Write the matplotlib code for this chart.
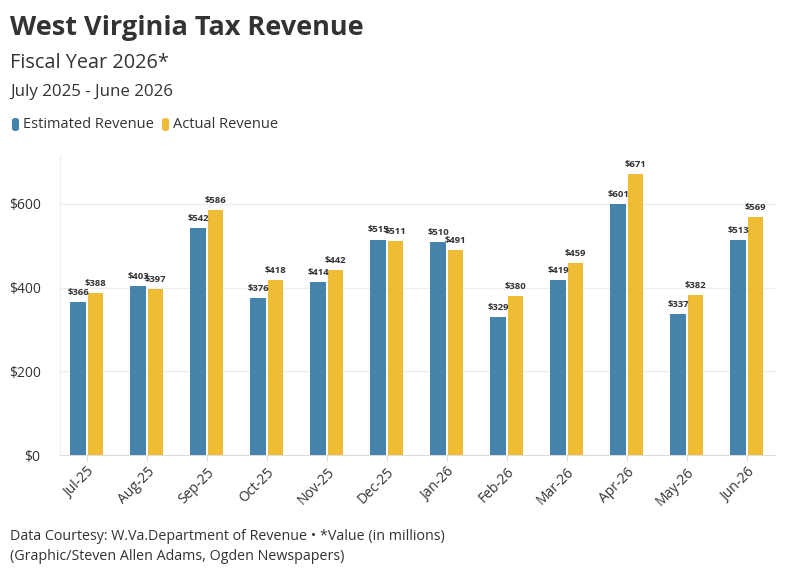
import matplotlib
matplotlib.use("Agg")
import matplotlib.pyplot as plt
import numpy as np
from matplotlib.patches import FancyBboxPatch

months = ["Jul-25", "Aug-25", "Sep-25", "Oct-25", "Nov-25", "Dec-25",
          "Jan-26", "Feb-26", "Mar-26", "Apr-26", "May-26", "Jun-26"]
estimated = [366, 403, 542, 376, 414, 515, 510, 329, 419, 601, 337, 513]
actual = [388, 397, 586, 418, 442, 511, 491, 380, 459, 671, 382, 569]
yticks = [0, 200, 400, 600]

BLUE = "#4683AA"
YELLOW = "#F0BC36"
TXT = "#333333"

plt.rcParams['font.family'] = ['Open Sans', 'DejaVu Sans']

fig = plt.figure(figsize=(7.94, 5.75), dpi=100)
ax = fig.add_axes([60/794, 1-455/575, (775-60)/794, (455-155)/575])

x = np.arange(len(months))
w = 0.26
off = 0.145
ax.bar(x - off, estimated, w, color=BLUE, zorder=3)
ax.bar(x + off, actual, w, color=YELLOW, zorder=3)

for xi, v in zip(x - off, estimated):
    ax.text(xi, v + 12, f"${v}", ha="center", va="bottom", fontsize=6.8,
            fontweight="bold", color=TXT, zorder=4)
for xi, v in zip(x + off, actual):
    ax.text(xi, v + 12, f"${v}", ha="center", va="bottom", fontsize=6.8,
            fontweight="bold", color=TXT, zorder=4)

ax.set_ylim(0, 717)
ax.set_xlim(-0.45, 11.47)
ax.set_yticks(yticks)
ax.set_yticklabels([f"${t}" for t in yticks], fontsize=10, color=TXT)
ax.set_xticks(x)
ax.set_xticklabels(months, rotation=45, ha="right", rotation_mode="anchor",
                   fontsize=10, color=TXT)
ax.tick_params(axis="y", length=0, pad=14)
ax.tick_params(axis="x", length=4, color="#dddddd", pad=3)
ax.grid(axis="y", color="#eeeeee", linewidth=1, zorder=0)
for s in ["top", "right"]:
    ax.spines[s].set_visible(False)
ax.spines["left"].set_color("#eeeeee")
ax.spines["bottom"].set_color("#dddddd")

fig.text(10/794, 1-28/575, "West Virginia Tax Revenue", fontsize=19.5,
         fontweight="bold", color=TXT, va="center", ha="left")
fig.text(10/794, 1-63/575, "Fiscal Year 2026*", fontsize=14.3,
         color=TXT, va="center", ha="left")
fig.text(10/794, 1-92/575, "July 2025 - June 2026", fontsize=12.2,
         color=TXT, va="center", ha="left")

# legend
ly = 1-125/575
for px, col, lab in [(12, BLUE, "Estimated Revenue"), (162, YELLOW, "Actual Revenue")]:
    p = FancyBboxPatch((px/794, ly-6/575), 7/794, 13/575,
                       boxstyle="round,pad=0,rounding_size=0.004",
                       transform=fig.transFigure, color=col, ec="none")
    fig.patches.append(p)
    fig.text((px+11)/794, ly, lab, fontsize=10.5, color=TXT, va="center", ha="left")

fig.text(10/794, 1-537/575,
         "Data Courtesy: W.Va.Department of Revenue \u2022 *Value (in millions)",
         fontsize=10.3, color=TXT, va="center", ha="left")
fig.text(10/794, 1-556/575, "(Graphic/Steven Allen Adams, Ogden Newspapers)",
         fontsize=10.3, color=TXT, va="center", ha="left")

fig.savefig("out.png", dpi=100)
